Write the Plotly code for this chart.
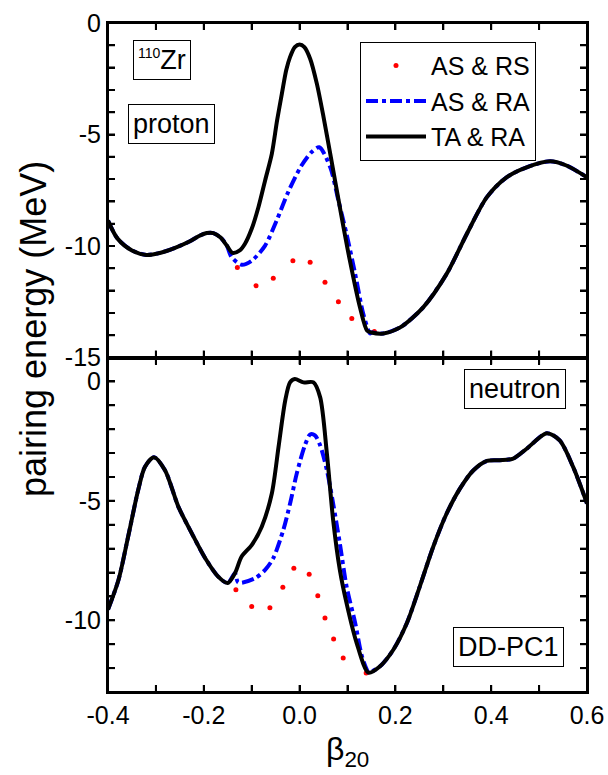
import plotly.graph_objects as go

# ---------------- data ----------------
# proton (top panel) : TA & RA
beta_ta_p = [-0.400, -0.380, -0.350, -0.320, -0.290, -0.260, -0.230, -0.210, -0.194, -0.180,
             -0.165, -0.152, -0.140, -0.125, -0.114, -0.100, -0.086, -0.072, -0.058, -0.047,
             -0.037, -0.028, -0.020, -0.010, 0.000, 0.010, 0.022, 0.036, 0.050, 0.064,
             0.084, 0.105, 0.126, 0.141, 0.150, 0.175, 0.210, 0.258, 0.307, 0.349,
             0.391, 0.432, 0.474, 0.523, 0.557, 0.600]
e_ta_p = [-8.86, -9.67, -10.20, -10.40, -10.30, -10.08, -9.80, -9.55, -9.42, -9.42,
          -9.62, -9.98, -10.31, -10.20, -9.90, -9.23, -8.26, -7.06, -5.87, -4.37,
          -3.17, -2.12, -1.53, -1.08, -0.96, -1.08, -1.60, -2.72, -4.22, -5.87,
          -8.26, -10.66, -12.75, -13.80, -13.88, -13.92, -13.65, -12.75, -11.25, -9.46,
          -7.81, -6.92, -6.47, -6.20, -6.39, -6.92]
# proton : AS & RA (part that departs from TA & RA)
beta_asra_p = [-0.142, -0.121, -0.100, -0.072, -0.048, -0.024, 0.004, 0.025, 0.041,
               0.064, 0.081, 0.098, 0.116, 0.133, 0.147]
e_asra_p = [-10.50, -10.84, -10.66, -9.98, -8.86, -7.59, -6.39, -5.79, -5.57,
            -6.47, -7.96, -9.46, -11.25, -13.05, -13.92]
# proton : AS & RS (visible dots)
beta_asrs_p = [-0.130, -0.091, -0.055, -0.014, 0.022, 0.053, 0.081, 0.109, 0.156]
e_asrs_p = [-10.96, -11.78, -11.45, -10.66, -10.73, -11.63, -12.50, -13.25, -13.83]

# neutron (bottom panel) : TA & RA
beta_ta_n = [-0.400, -0.378, -0.358, -0.337, -0.323, -0.304, -0.281, -0.253, -0.225, -0.197,
             -0.170, -0.150, -0.135, -0.121, -0.100, -0.079, -0.058, -0.044, -0.030, -0.020,
             -0.010, 0.008, 0.029, 0.043, 0.057, 0.070, 0.084, 0.098, 0.119, 0.144,
             0.168, 0.196, 0.224, 0.251, 0.279, 0.307, 0.335, 0.363, 0.391, 0.418,
             0.446, 0.474, 0.516, 0.543, 0.571, 0.600]
e_ta_n = [-9.55, -8.30, -6.50, -4.55, -3.58, -3.17, -3.72, -5.25, -6.36, -7.40,
          -8.17, -8.44, -8.03, -7.33, -6.85, -6.08, -4.69, -2.75, -0.80, -0.04,
          0.10, -0.04, -0.04, -0.67, -3.03, -5.80, -7.89, -9.28, -10.94, -12.19,
          -11.92, -11.22, -10.11, -8.58, -6.92, -5.53, -4.48, -3.72, -3.33, -3.30,
          -3.23, -2.82, -2.17, -2.47, -3.58, -5.11]
# neutron : AS & RA (part that departs from TA & RA)
beta_asra_n = [-0.128, -0.093, -0.072, -0.055, -0.034, -0.019, -0.006, 0.011, 0.022,
               0.032, 0.043, 0.057, 0.070, 0.084, 0.098, 0.116, 0.130, 0.141]
e_asra_n = [-8.42, -8.24, -7.89, -7.40, -6.22, -5.04, -3.86, -2.68, -2.22,
            -2.26, -2.68, -3.72, -5.11, -6.78, -8.58, -10.11, -11.50, -12.10]
# neutron : AS & RS (visible dots)
beta_asrs_n = [-0.133, -0.100, -0.062, -0.035, -0.012, 0.020, 0.038, 0.053, 0.071, 0.091, 0.139]
e_asrs_n = [-8.72, -9.42, -9.47, -8.62, -7.82, -8.07, -8.97, -9.90, -10.78, -11.58, -12.20]

series_names = ["AS & RS", "AS & RA", "TA & RA"]

# tick positions (labelled and unlabelled)
x_tickvals = [-0.4, -0.3, -0.2, -0.1, 0.0, 0.1, 0.2, 0.3, 0.4, 0.5, 0.6]
x_ticktext = ["-0.4", "", "-0.2", "", "0.0", "", "0.2", "", "0.4", "", "0.6"]
yp_tickvals = list(range(-15, 1))
yp_ticktext = ["-15", "", "", "", "", "-10", "", "", "", "", "-5", "", "", "", "", "0"]
yn_tickvals = list(range(-13, 2))
yn_ticktext = ["", "", "", "-10", "", "", "", "", "-5", "", "", "", "", "0", ""]


def full_branch(bx, by, brx, bry):
    """TA&RA values outside the branch, branch values inside."""
    lo, hi = brx[0], brx[-1]
    xs = [b for b in bx if b < lo] + list(brx) + [b for b in bx if b > hi]
    ys = [e for b, e in zip(bx, by) if b < lo] + list(bry) + [e for b, e in zip(bx, by) if b > hi]
    return xs, ys


FONT = "Liberation Sans, Arial, sans-serif"
RED, BLUE, BLACK = "#ff0000", "#0000ff", "#000000"

fig = go.Figure()
for (xa, ya, bx, by, brx, bry, rx, ry, leg) in [
    ("x2", "y2", beta_ta_p, e_ta_p, beta_asra_p, e_asra_p, beta_asrs_p, e_asrs_p, True),
    ("x", "y", beta_ta_n, e_ta_n, beta_asra_n, e_asra_n, beta_asrs_n, e_asrs_n, False),
]:
    fig.add_trace(go.Scatter(x=rx, y=ry, mode="markers", name=series_names[0],
                             marker=dict(color=RED, size=5), xaxis=xa, yaxis=ya,
                             showlegend=leg))
    bxs, bys = full_branch(bx, by, brx, bry)
    fig.add_trace(go.Scatter(x=bxs, y=bys, mode="lines", name=series_names[1],
                             line=dict(color=BLUE, width=4, dash="dashdot", shape="spline",
                                       smoothing=0.8),
                             xaxis=xa, yaxis=ya, showlegend=leg))
    fig.add_trace(go.Scatter(x=bx, y=by, mode="lines", name=series_names[2],
                             line=dict(color=BLACK, width=4, shape="spline", smoothing=0.8),
                             xaxis=xa, yaxis=ya, showlegend=leg))

axis_common = dict(showline=True, linewidth=2, linecolor=BLACK, mirror="ticks",
                   ticks="inside", ticklen=7, tickwidth=2, tickcolor=BLACK,
                   showgrid=False, zeroline=False, automargin=False,
                   tickfont=dict(family=FONT, size=25, color=BLACK))

fig.update_layout(
    template="none",
    width=608, height=775,
    margin=dict(l=108, r=21, t=23, b=83, pad=0),
    paper_bgcolor="white", plot_bgcolor="white",
    font=dict(family=FONT, color=BLACK),
    showlegend=True,
    legend=dict(x=0.5261, y=0.972, xanchor="left", yanchor="top",
                bordercolor=BLACK, borderwidth=1, bgcolor="white",
                font=dict(family=FONT, size=25, color=BLACK),
                itemwidth=60, tracegroupgap=0),
    xaxis=dict(domain=[0, 1], anchor="y", range=[-0.4, 0.6],
               tickmode="array", tickvals=x_tickvals, ticktext=x_ticktext,
               **axis_common),
    xaxis2=dict(domain=[0, 1], anchor="y2", range=[-0.4, 0.6],
                showticklabels=False,
                tickmode="array", tickvals=x_tickvals, ticktext=x_ticktext,
                **axis_common),
    yaxis=dict(domain=[0, 0.5], anchor="x", range=[-13, 1],
               tickmode="array", tickvals=yn_tickvals, ticktext=yn_ticktext,
               **axis_common),
    yaxis2=dict(domain=[0.5, 1], anchor="x2", range=[-15, 0],
                tickmode="array", tickvals=yp_tickvals, ticktext=yp_ticktext,
                **axis_common),
)

# ---- frame and inward ticks, placed through the axes' own scales ----
TICK_FX = 7 / 479.0      # 7 px as a fraction of the plot width
TICK_FY = 7 / 334.5      # 7 px as a fraction of one panel height
frame = dict(color=BLACK, width=2)
shapes = []
for xa, ya in [("x", "y"), ("x2", "y2")]:
    shapes.append(dict(type="rect", xref=xa + " domain", yref=ya + " domain",
                       x0=0, x1=1, y0=0, y1=1, line=frame, layer="above"))
    for v in x_tickvals:
        shapes.append(dict(type="line", xref=xa, yref=ya + " domain", x0=v, x1=v,
                           y0=0, y1=TICK_FY, line=frame, layer="above"))
        shapes.append(dict(type="line", xref=xa, yref=ya + " domain", x0=v, x1=v,
                           y0=1, y1=1 - TICK_FY, line=frame, layer="above"))
for ya, vals in [("y", yn_tickvals), ("y2", yp_tickvals)]:
    xa = "x" if ya == "y" else "x2"
    for v in vals:
        shapes.append(dict(type="line", xref=xa + " domain", yref=ya, x0=0, x1=TICK_FX,
                           y0=v, y1=v, line=frame, layer="above"))
        shapes.append(dict(type="line", xref=xa + " domain", yref=ya, x0=1, x1=1 - TICK_FX,
                           y0=v, y1=v, line=frame, layer="above"))

# ---- axis titles ----
annotations = [
    dict(text="pairing energy (MeV)", x=-0.1566, y=0.5426, xref="paper", yref="paper",
         textangle=-90, showarrow=False, xanchor="center", yanchor="middle",
         font=dict(family=FONT, size=36, color=BLACK)),
    dict(text="β<sub>20</sub>", x=0.5, y=-0.055, xref="paper", yref="paper",
         showarrow=False, xanchor="center", yanchor="top",
         font=dict(family=FONT, size=32, color=BLACK)),
]

# ---- boxed labels ----
box = dict(xref="paper", yref="paper", showarrow=False, bordercolor=BLACK, borderwidth=1,
           borderpad=4, xanchor="center", yanchor="middle",
           font=dict(family=FONT, size=27, color=BLACK))
annotations += [
    dict(text="<sup><span style='font-size:14px'>110</span></sup>Zr", x=0.1117, y=0.9454, **box),
    dict(text="proton", x=0.1322, y=0.8490, **box),
    dict(text="neutron", x=0.8507, y=0.4522, **box),
    dict(text="DD-PC1", x=0.8361, y=0.0673, **box),
]
fig.update_layout(annotations=annotations, shapes=shapes)

# remove the default 8 px page margin so the 608x775 figure fills the window exactly
fig.write_html("out.html", config={"displayModeBar": False},
               post_script="document.body.style.margin='0';document.body.style.overflow='hidden';")
